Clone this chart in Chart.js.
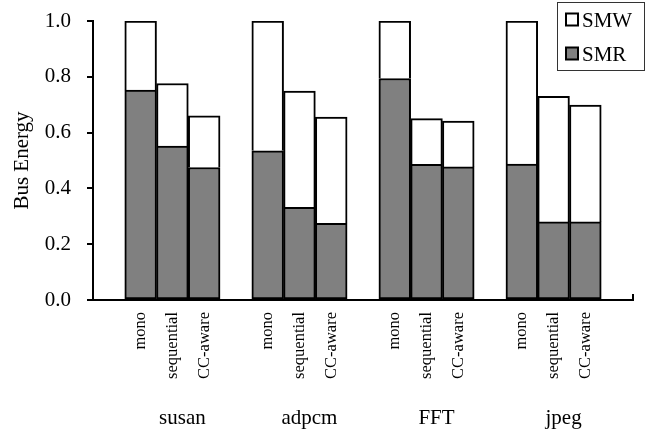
<!DOCTYPE html>
<html>
<head>
<meta charset="utf-8">
<script src="https://cdn.jsdelivr.net/npm/chart.js@4/dist/chart.umd.min.js"></script>
<style>
html,body{margin:0;padding:0;background:#fff;}
#wrap{width:655px;height:432px;position:relative;}
</style>
</head>
<body>
<div id="wrap"><canvas id="c" width="655" height="432"></canvas></div>
<script>
const groups = ['susan', 'adpcm', 'FFT', 'jpeg'];
const variants = ['mono', 'sequential', 'CC-aware'];
const smr = [
  [0.752, 0.552, 0.475],
  [0.535, 0.332, 0.275],
  [0.794, 0.486, 0.477],
  [0.487, 0.280, 0.280]
];
const smw = [
  [0.248, 0.224, 0.185],
  [0.465, 0.417, 0.381],
  [0.206, 0.164, 0.164],
  [0.513, 0.450, 0.419]
];
const yTicks = [0.0, 0.2, 0.4, 0.6, 0.8, 1.0];

// build interleaved category table with gap slots
const labels = [], smrData = [], smwData = [], groupCenters = [];
groups.forEach((g, gi) => {
  labels.push(''); smrData.push(null); smwData.push(null);
  const start = labels.length;
  variants.forEach((v, vi) => {
    labels.push(v); smrData.push(smr[gi][vi]); smwData.push(smw[gi][vi]);
  });
  groupCenters.push(start + (variants.length - 1) / 2);
});
labels.push(''); smrData.push(null); smwData.push(null);

const FONT = "'Liberation Serif', 'Times New Roman', serif";
Chart.defaults.font.family = FONT;
Chart.defaults.color = '#000';

const extras = {
  id: 'extras',
  afterDraw(chart) {
    const ctx = chart.ctx, ca = chart.chartArea, x = chart.scales.x;
    ctx.save();
    // right-end tick on x axis
    ctx.strokeStyle = '#000'; ctx.lineWidth = 2;
    ctx.beginPath(); ctx.moveTo(ca.right, ca.bottom); ctx.lineTo(ca.right, ca.bottom - 6); ctx.stroke();
    // group labels
    ctx.fillStyle = '#000';
    ctx.font = '21px ' + FONT;
    ctx.textAlign = 'center'; ctx.textBaseline = 'alphabetic';
    groups.forEach((g, i) => {
      ctx.fillText(g, x.getPixelForValue(groupCenters[i]) + 10, 424);
    });
    // legend
    const lx = 557, ly = 2, lw = 87, lh = 68;
    ctx.fillStyle = '#fff'; ctx.fillRect(lx, ly, lw, lh);
    ctx.strokeStyle = '#333'; ctx.lineWidth = 1;
    ctx.strokeRect(lx + 0.5, ly + 0.5, lw, lh);
    const ds = chart.data.datasets.slice().reverse();
    ds.forEach((d, i) => {
      const cy = 20 + i * 34;
      ctx.fillStyle = d.backgroundColor;
      ctx.fillRect(566, cy - 6.5, 12, 12);
      ctx.strokeStyle = '#000'; ctx.lineWidth = 2;
      ctx.strokeRect(566, cy - 6.5, 12, 12);
      ctx.fillStyle = '#000';
      ctx.font = '21px ' + FONT;
      ctx.textAlign = 'left'; ctx.textBaseline = 'middle';
      ctx.fillText(d.label, 582, cy + 1);
    });
    ctx.restore();
  }
};

new Chart(document.getElementById('c'), {
  type: 'bar',
  data: {
    labels: labels,
    datasets: [
      { label: 'SMR', data: smrData, backgroundColor: '#808080', borderColor: '#000', borderWidth: 2, borderSkipped: false },
      { label: 'SMW', data: smwData, backgroundColor: '#ffffff', borderColor: '#000', borderWidth: 2, borderSkipped: 'start' }
    ]
  },
  options: {
    responsive: false,
    animation: false,
    layout: { padding: { top: 21, right: 22, left: 0, bottom: 0 } },
    plugins: { legend: { display: false }, tooltip: { enabled: false } },
    datasets: { bar: { categoryPercentage: 1, barPercentage: 1 } },
    scales: {
      x: {
        stacked: true,
        grid: { display: false, drawTicks: false },
        border: { display: true, color: '#000', width: 2 },
        ticks: { autoSkip: false, minRotation: 90, maxRotation: 90, padding: 12, font: { size: 16.5 }, color: '#000' },
        afterFit(s) { s.height = 132; s.paddingLeft = 0; s.paddingRight = 0; }
      },
      y: {
        stacked: true,
        min: 0, max: 1,
        afterBuildTicks(s) { s.ticks = yTicks.map(v => ({ value: v })); },
        grid: { display: true, drawOnChartArea: false, drawTicks: true, tickLength: 6, color: '#000', lineWidth: 2 },
        border: { display: true, color: '#000', width: 2 },
        ticks: { padding: 16, font: { size: 21 }, color: '#000', callback: v => Number(v).toFixed(1) },
        title: { display: true, text: 'Bus Energy', font: { size: 21 }, color: '#000', padding: { top: 10, bottom: 0 } },
        afterFit(s) { s.width = 93; s.paddingTop = 0; s.paddingBottom = 0; }
      }
    }
  },
  plugins: [extras]
});
</script>
</body>
</html>
